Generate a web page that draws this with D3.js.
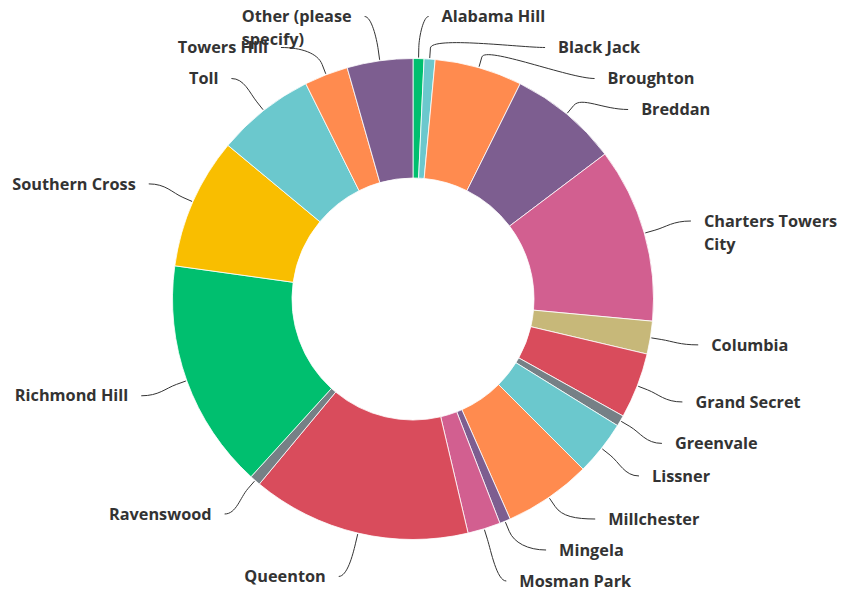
<!DOCTYPE html>
<html>
<head>
<meta charset="utf-8">
<script src="https://cdn.jsdelivr.net/npm/d3@7"></script>
<style>
  body { margin: 0; background: #fff; }
  svg { display: block; }
  .lbl { font-family: "Open Sans", sans-serif; font-weight: 700; font-size: 16.3px; fill: #333; }
</style>
</head>
<body>
<div id="vizContainer"></div>
<script>
// survey answers (counts), clockwise from 12 o'clock
let categories = [
  "Alabama Hill", "Black Jack", "Broughton", "Breddan", "Charters Towers City",
  "Columbia", "Grand Secret", "Greenvale", "Lissner", "Millchester", "Mingela",
  "Mosman Park", "Queenton", "Ravenswood", "Richmond Hill", "Southern Cross",
  "Toll", "Towers Hill", "Other (please specify)"
];
let counts = [1, 1, 8, 10, 16, 3, 6, 1, 5, 8, 1, 3, 20, 1, 21, 12, 9, 4, 6];

let sliceColors = [
  "#00bf6f", "#6bc8cd", "#ff8b4f", "#7d5e90", "#d25f90",
  "#c7b879", "#d94c5c", "#768086", "#6bc8cd", "#ff8b4f", "#7d5e90",
  "#d25f90", "#d94c5c", "#768086", "#00bf6f", "#f9be00",
  "#6bc8cd", "#ff8b4f", "#7d5e90"
];

let w = 844;
let h = 593;
let cx = 413;
let cy = 299;
let outerR = 240.5;
let innerR = 121;

let labelR = 285;   // radius used for the natural label height
let xR = 280;       // radius used to place the label horizontally
let slot = 31;      // vertical room per label
let lineH = 23;
let maxLabelW = 160;

let viz = d3.select("#vizContainer")
  .append("svg")
  .attr("width", w)
  .attr("height", h)
  .style("background-color", "white")
  ;

let color = d3.scaleOrdinal().domain(categories).range(sliceColors);

let data = categories.map((c, i) => ({ name: c, count: counts[i] }));

let pie = d3.pie().sort(null).value(d => d.count);
let arc = d3.arc().innerRadius(innerR).outerRadius(outerR);
let arcs = pie(data);

let chartGroup = viz.append("g")
  .attr("transform", "translate(" + cx + "," + cy + ")");

chartGroup.selectAll(".slice")
  .data(arcs)
  .enter()
  .append("path")
  .attr("class", "slice")
  .attr("d", arc)
  .attr("fill", d => color(d.data.name))
  .attr("stroke", "white")
  .attr("stroke-width", 0.8)
  ;

// label layout
arcs.forEach(a => {
  a.mid = (a.startAngle + a.endAngle) / 2;
  a.side = a.mid < Math.PI ? 1 : -1;
  a.natY = cy - labelR * Math.cos(a.mid);
  a.natX = cx + labelR * Math.sin(a.mid);
});

function distribute(items, top, bottom) {
  items.sort((a, b) => a.natY - b.natY);
  let place = b => {
    b.pos = Math.max(top, Math.min(bottom - b.size, b.target - b.size / 2));
  };
  let boxes = items.map(d => ({ items: [d], target: d.natY, size: slot }));
  boxes.forEach(place);
  let changed = true;
  while (changed) {
    changed = false;
    for (let i = 1; i < boxes.length; i++) {
      let a = boxes[i - 1], b = boxes[i];
      if (a.pos + a.size > b.pos + 0.01) {
        let merged = { items: a.items.concat(b.items), size: a.size + b.size };
        merged.target = d3.mean(merged.items, d => d.natY);
        place(merged);
        boxes.splice(i - 1, 2, merged);
        changed = true;
        break;
      }
    }
  }
  boxes.forEach(b => b.items.forEach((d, k) => { d.y = b.pos + slot / 2 + k * slot; }));
}

distribute(arcs.filter(a => a.side === 1), 1, 596.5);
distribute(arcs.filter(a => a.side === -1), 1, 596.5);

arcs.forEach(a => {
  let dy = a.y - cy;
  let base = Math.abs(dy) > 265
    ? a.natX
    : cx + a.side * Math.sqrt(Math.max(0, xR * xR - dy * dy));
  a.connX = base + a.side * 9;
  a.textX = base + a.side * 22;
});

// connectors
let connGroup = viz.append("g").attr("class", "connectors");
connGroup.selectAll("path")
  .data(arcs)
  .enter()
  .append("path")
  .attr("d", a => {
    let ux = Math.sin(a.mid), uy = -Math.cos(a.mid);
    let r0 = outerR + 1;
    let p0 = [cx + r0 * ux, cy + r0 * uy];
    let b = [p0[0] + ux * 10, p0[1] + uy * 10];
    let c1 = [p0[0] + ux * 22, p0[1] + uy * 22];
    let e = [a.connX, a.y];
    let k2 = Math.min(25, Math.abs(e[0] - b[0]) * 0.5);
    let c2 = [e[0] - a.side * k2, e[1]];
    return "M" + p0 + "L" + b + "C" + c1 + " " + c2 + " " + e;
  })
  .attr("fill", "none")
  .attr("stroke", "#333")
  .attr("stroke-width", 1)
  ;

// labels
let labelGroup = viz.append("g").attr("class", "labels");
labelGroup.selectAll("text")
  .data(arcs)
  .enter()
  .append("text")
  .attr("class", "lbl")
  .each(function (a) {
    let t = d3.select(this);
    let words = a.data.name.split(" ");
    let lines = [];
    let cur = [];
    let probe = t.append("tspan");
    words.forEach(wd => {
      let test = cur.concat([wd]).join(" ");
      probe.text(test);
      if (cur.length && probe.node().getComputedTextLength() > maxLabelW) {
        lines.push(cur.join(" "));
        cur = [wd];
      } else {
        cur.push(wd);
      }
    });
    lines.push(cur.join(" "));
    probe.remove();

    let spans = lines.map((ln, k) => t.append("tspan")
      .attr("y", a.y + k * lineH)
      .attr("dy", "0.35em")
      .text(ln));
    let blockW = d3.max(spans, s => s.node().getComputedTextLength());
    spans.forEach(s => {
      if (a.side === 1) {
        s.attr("x", a.textX);
      } else {
        s.attr("x", a.textX - blockW);
      }
    });
  })
  ;
</script>
</body>
</html>
